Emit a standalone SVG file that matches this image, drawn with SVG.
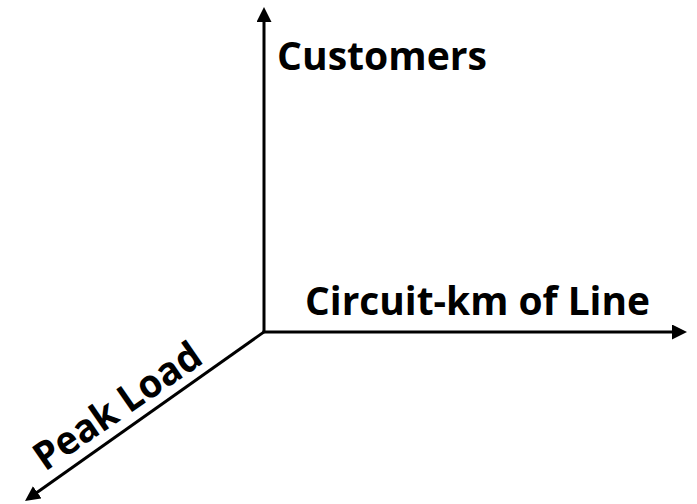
<svg xmlns="http://www.w3.org/2000/svg" width="697" height="504" viewBox="0 0 697 504">
  <style>
    .axis { stroke: #000; stroke-width: 3; fill: none; }
    .lbl { font-family: "Open Sans", "Noto Sans", "Liberation Sans", sans-serif; font-weight: 700; font-size: 39px; fill: #000; }
  </style>
  <defs>
    <marker id="arrow" markerUnits="userSpaceOnUse" viewBox="0 0 15 15" markerWidth="15" markerHeight="15" refX="3" refY="7.5" orient="auto">
      <path d="M0,0 L15,7.5 L0,15 Z" fill="#000"/>
    </marker>
  </defs>
  <rect width="697" height="504" fill="#fff"/>
  <g id="connectors">
    <line class="axis" x1="264" y1="332" x2="264" y2="19" marker-end="url(#arrow)"/>
    <line class="axis" x1="262.5" y1="332" x2="675" y2="332" marker-end="url(#arrow)"/>
    <line class="axis" x1="264.8" y1="331.4" x2="34.8" y2="494" marker-end="url(#arrow)"/>
  </g>
  <g id="customers">
    <text class="lbl" x="277" y="69.5" textLength="210" lengthAdjust="spacingAndGlyphs">Customers</text>
  </g>
  <g id="circuit-km">
    <text class="lbl" x="305" y="314.5" textLength="345" lengthAdjust="spacingAndGlyphs">Circuit-km of Line</text>
  </g>
  <g id="peak-load">
    <text class="lbl" transform="translate(45,472) rotate(-34.5)" x="0" y="0" textLength="194" lengthAdjust="spacingAndGlyphs">Peak Load</text>
  </g>
</svg>
